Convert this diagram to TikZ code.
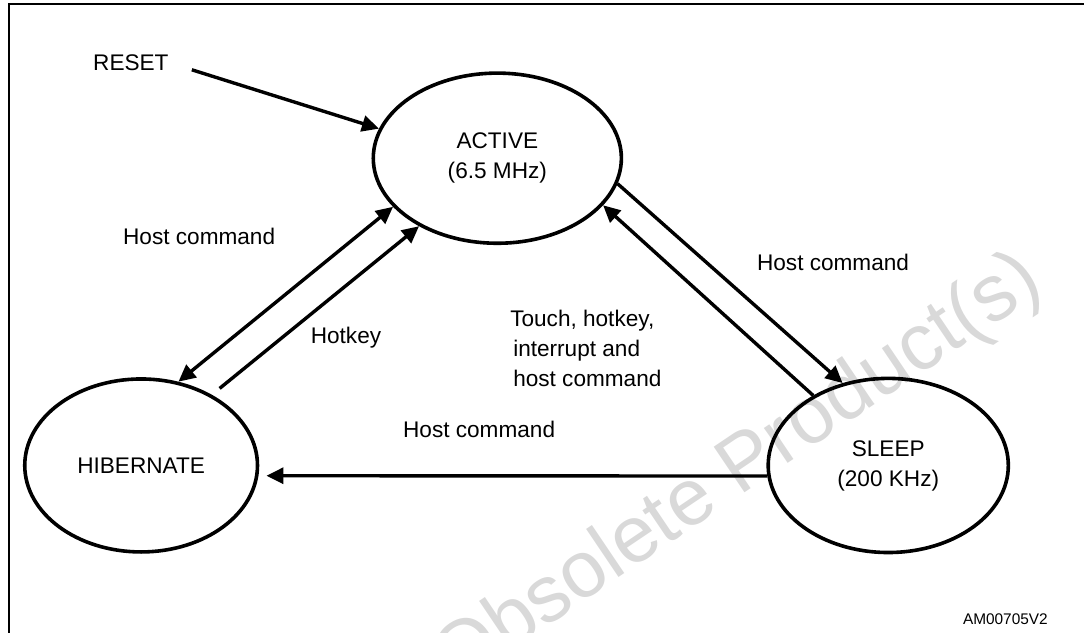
\documentclass[tikz,border=0pt]{standalone}
\usepackage{fontspec}
\setmainfont{Liberation Sans}
\usetikzlibrary{arrows.meta}
\usetikzlibrary{shapes.geometric}

\begin{document}
\begin{tikzpicture}[
  >={Triangle[length=8.5pt,width=8pt]},
  state/.style={draw, ellipse, line width=1.8pt, inner sep=0pt, align=center, font=\fontsize{11.3}{15}\selectfont},
  lbl/.style={inner sep=0pt, font=\fontsize{11.3}{15}\selectfont},
  arr/.style={line width=1.7pt, ->}
]
\useasboundingbox (0,0) rectangle (19.05,11.12);
% watermark and frame
\node[rotate=34, text=black!15, font=\fontsize{40}{40}\selectfont] (stamp) at (12.99,2.83) {Obsolete Product(s)};
\draw[line width=1.3pt] (0.16,0) -- (0.16,11.05) -- (19.05,11.05);
% states
\node[state, minimum width=4.36cm, minimum height=2.99cm] (active) at (8.74,8.34) {ACTIVE\\(6.5 MHz)};
\node[state, minimum width=4.09cm, minimum height=3.04cm] (hib) at (2.48,2.94) {HIBERNATE};
\node[state, minimum width=4.22cm, minimum height=3.06cm] (sleep) at (15.61,2.94) {SLEEP\\(200 KHz)};
% labels
\node[lbl] (reset) at (2.30,10.02) {RESET};
\node[lbl] (hostA) at (3.50,6.96) {Host command};
\node[lbl] (hotkey) at (6.08,5.18) {Hotkey};
\node[lbl] (hostB) at (14.64,6.50) {Host command};
\node[lbl] (hostC) at (8.42,3.57) {Host command};
\node[lbl, anchor=west, align=left] (touch) at (8.96,4.99) {Touch, hotkey,\\\hspace{1.5pt}interrupt and\\\hspace{1.5pt}host command};
\node[inner sep=0pt, anchor=east, font=\fontsize{7.7}{9}\selectfont] (code) at (18.42,0.23) {AM00705V2};
% transitions
\draw[arr, shorten <=12pt] (reset.east) -- (active.166);
\draw[arr, <->] (hib.66) -- (active.205);
\draw[arr, shorten <=5pt] (hib.45) -- (active.221);
\draw[arr] (active.348) -- (sleep.119);
\draw[arr] (sleep.137) -- (active.336);
\draw[arr, shorten >=4pt] (sleep.185) -- (hib.355);
\end{tikzpicture}
\end{document}
